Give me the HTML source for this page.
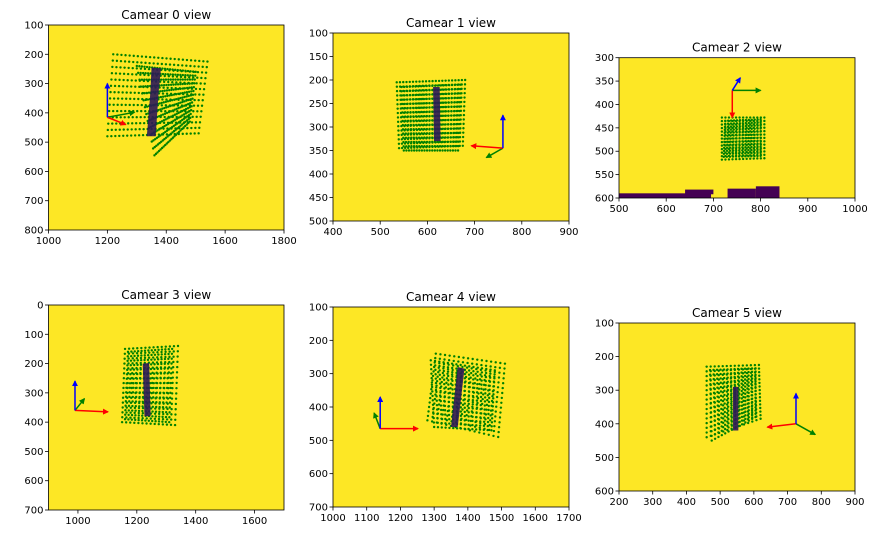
<!DOCTYPE html>
<html><head><meta charset="utf-8"><style>
body{margin:0;background:#fff;}
svg{display:block;font-family:"DejaVu Sans","Liberation Sans",sans-serif;}
</style></head><body>
<svg id="fig" width="882" height="535" viewBox="0 0 882 535" xmlns="http://www.w3.org/2000/svg"></svg>
<script>
const titles = ["Camear 0 view","Camear 1 view","Camear 2 view","Camear 3 view","Camear 4 view","Camear 5 view"];
const xRanges = [[1000,1800],[400,900],[500,1000],[900,1700],[1000,1700],[200,900]];
const yRanges = [[100,800],[100,500],[300,600],[0,700],[100,700],[100,600]];
const xTicks = [[1000,1200,1400,1600,1800],[400,500,600,700,800,900],[500,600,700,800,900,1000],[1000,1200,1400,1600],[1000,1100,1200,1300,1400,1500,1600,1700],[200,300,400,500,600,700,800,900]];
const yTicks = [[100,200,300,400,500,600,700,800],[100,150,200,250,300,350,400,450,500],[300,350,400,450,500,550,600],[0,100,200,300,400,500,600,700],[100,200,300,400,500,600,700],[100,200,300,400,500,600]];
const gridQuads = [
 [[1220,200],[1540,225],[1510,470],[1200,480]],
 [[535,205],[680,200],[675,340],[540,345]],
 [[718,428],[808,428],[808,515],[718,518]],
 [[1160,150],[1340,140],[1330,410],[1150,400]],
 [[1305,240],[1510,270],[1490,490],[1280,440]],
 [[460,230],[615,225],[620,385],[460,440]]
];
const gridQuads2 = [
 [[1300,240],[1500,260],[1480,430],[1360,545]],
 [[545,215],[670,210],[665,350],[550,350]],
 [[725,435],[800,432],[800,510],[722,512]],
 [[1170,160],[1320,150],[1310,400],[1160,390]],
 [[1290,260],[1480,290],[1470,470],[1300,460]],
 [[470,240],[605,235],[605,380],[475,450]]
];
const gridRows = [14,16,13,16,16,16];
const gridCols = [24,22,13,14,16,14];
const persons = [
 [[1350,245],[1382,248],[1374,330],[1364,480],[1334,480],[1346,330]],
 [[612,215],[626,215],[628,330],[614,330]],
 [],
 [[1220,200],[1242,198],[1247,380],[1226,380]],
 [[1370,280],[1390,285],[1370,460],[1350,460]],
 [[538,290],[554,290],[554,420],[538,420]]
];
const arrowOrigin = [[1200,415],[760,345],[740,370],[990,360],[1140,465],[725,400]];
const arrowBlue = [[1200,300],[760,275],[757,343],[990,260],[1140,370],[725,310]];
const arrowRed = [[1262,440],[693,340],[740,428],[1102,365],[1252,465],[640,410]];
const arrowGreen = [[1292,398],[725,365],[800,370],[1022,320],[1122,418],[782,432]];
const floorBars = [[500,590,695,600],[640,582,700,592],[730,580,790,600],[790,575,840,600]];

const boxes = [[48.5,284,25,230],[333,569,33,221],[619,855,57.7,198],[48.5,284,305,510],[333,569,307,507],[619,855,323,491]];
const NS="http://www.w3.org/2000/svg";
const fig=document.getElementById('fig');
function mk(t,a,p){const e=document.createElementNS(NS,t);for(const k in a)e.setAttribute(k,a[k]);(p||fig).appendChild(e);return e;}
const defs=mk('defs',{});
[['blue','#0000ff'],['red','#ff0000'],['green','#008000']].forEach(([n,c])=>{
 const m=mk('marker',{id:'ah-'+n,markerWidth:6,markerHeight:6,refX:5,refY:3,orient:'auto',markerUnits:'userSpaceOnUse'},defs);
 mk('path',{d:'M0,0 L6,3 L0,6 Z',fill:c},m);
});
for(let i=0;i<6;i++){
 const [L,R,T,B]=boxes[i],[x0,x1]=xRanges[i],[y0,y1]=yRanges[i];
 const sx=v=>L+(v-x0)/(x1-x0)*(R-L), sy=v=>T+(v-y0)/(y1-y0)*(B-T);
 const g=mk('g',{});
 
 
 const bg=mk('rect',{x:L,y:T,width:R-L,height:B-T,fill:'#fde725'},g);
 
 
 floorBars.forEach(b=>{ if(i!==2)return;
  const r=mk('rect',{x:sx(b[0]),y:sy(b[1]),width:sx(b[2])-sx(b[0]),height:sy(b[3])-sy(b[1]),fill:'#440154'},g);
  
  
 });
 const nr=gridRows[i],nc=gridCols[i];
 const dg=mk('g',{fill:'#008000'},g);
 
 
 [gridQuads[i],gridQuads2[i]].forEach(q=>{
 for(let r=0;r<nr;r++)for(let c=0;c<nc;c++){
  const u=c/(nc-1),v=r/(nr-1);
  const tx=q[0][0]+(q[1][0]-q[0][0])*u, ty=q[0][1]+(q[1][1]-q[0][1])*u;
  const bx=q[3][0]+(q[2][0]-q[3][0])*u, by=q[3][1]+(q[2][1]-q[3][1])*u;
  const d=mk('circle',{cx:sx(tx+(bx-tx)*v),cy:sy(ty+(by-ty)*v),r:1.2},dg);
  
  
 }});
 if(persons[i].length){
  const p=mk('polygon',{points:persons[i].map(pt=>sx(pt[0])+','+sy(pt[1])).join(' '),fill:'#2c1858',opacity:0.9},g);
  
  
 }
 const o=arrowOrigin[i];
 [['green',arrowGreen[i],'#008000'],['red',arrowRed[i],'#ff0000'],['blue',arrowBlue[i],'#0000ff']].forEach(([n,e,c])=>{
  const l=mk('line',{x1:sx(o[0]),y1:sy(o[1]),x2:sx(e[0]),y2:sy(e[1]),stroke:c,'stroke-width':1.5,'marker-end':'url(#ah-'+n+')'},g);
  
  
 });
 const fr=mk('rect',{x:L,y:T,width:R-L,height:B-T,fill:'none',stroke:'#000','stroke-width':0.8},g);
 
 
 xTicks[i].forEach(t=>{
  const x=sx(t);
  mk('line',{x1:x,y1:B,x2:x,y2:B+3.5,stroke:'#000','stroke-width':0.8},g);
  const tx=mk('text',{x:x,y:B+14,'font-size':10,'text-anchor':'middle',fill:'#000'},g);
  tx.textContent=t;
  
  
 });
 yTicks[i].forEach(t=>{
  const y=sy(t);
  mk('line',{x1:L-3.5,y1:y,x2:L,y2:y,stroke:'#000','stroke-width':0.8},g);
  const tx=mk('text',{x:L-5,y:y+3.5,'font-size':10,'text-anchor':'end',fill:'#000'},g);
  tx.textContent=t;
  
  
 });
 const tt=mk('text',{x:(L+R)/2,y:T-6,'font-size':12,'text-anchor':'middle',fill:'#000'},g);
 tt.textContent=titles[i];
 
 
}
</script>
</body></html>
